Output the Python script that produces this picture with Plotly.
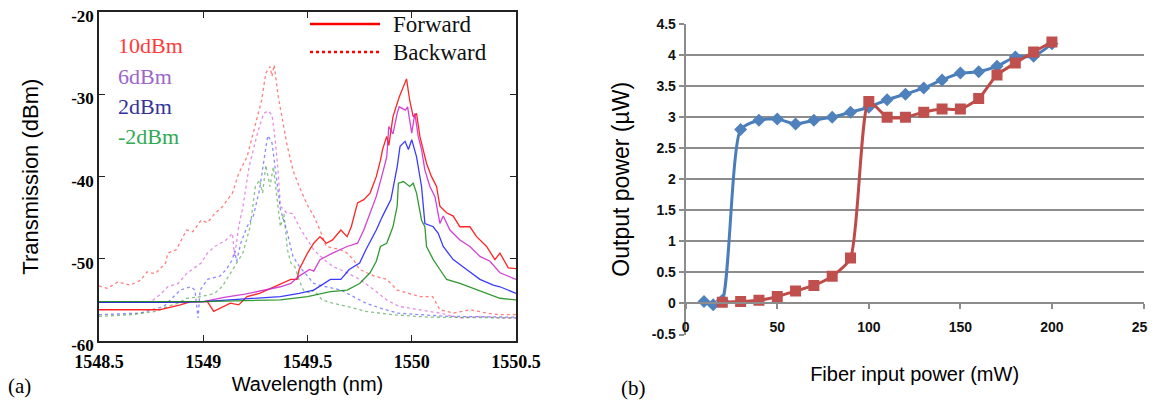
import plotly.graph_objects as go

# The page body has an 8px default margin, so the figure is drawn 8px in from the window edge.
PAGE_OFF = 8
W, H = 1156 - PAGE_OFF, 404 - PAGE_OFF


def px(xp):
    return (xp - PAGE_OFF) / W


def py(yp):
    return 1 - (yp - PAGE_OFF) / H


# ---------------- Panel (a): transmission spectra ----------------
wl_ticks = [1548.5, 1549, 1549.5, 1550, 1550.5]
wl_ticktext = ["1548.5", "1549", "1549.5", "1550", "1550.5"]
db_ticks = [-60, -50, -40, -30, -20]
db_ticktext = ["-60", "-50", "-40", "-30", "-20"]

fwd_10_wl = [1548.50, 1548.60, 1548.70, 1548.79, 1548.84, 1548.89, 1548.94, 1548.98, 1549.02, 1549.05,
             1549.08, 1549.13, 1549.17, 1549.21, 1549.27, 1549.34, 1549.37, 1549.42, 1549.45, 1549.46,
             1549.50, 1549.53, 1549.56, 1549.59, 1549.62, 1549.66, 1549.69, 1549.71, 1549.74, 1549.77,
             1549.80, 1549.83, 1549.85, 1549.86, 1549.88, 1549.89, 1549.91, 1549.94, 1549.975, 1549.99,
             1550.007, 1550.023, 1550.039, 1550.055, 1550.071, 1550.095, 1550.119, 1550.135, 1550.167,
             1550.199, 1550.231, 1550.279, 1550.311, 1550.359, 1550.399, 1550.423, 1550.463, 1550.5]
fwd_10_db = [-56.2, -56.2, -56.2, -56.2, -55.9, -55.6, -55.2, -55.2, -55.2, -56.4,
             -56.0, -55.4, -55.6, -54.6, -54.2, -53.4, -53.0, -52.5, -52.5, -51.3,
             -49.3, -48.1, -47.3, -48.1, -47.7, -46.5, -47.3, -46.1, -43.2, -42.8,
             -42.0, -40.0, -38.0, -36.7, -35.1, -36.2, -32.7, -30.3, -28.1, -30.7,
             -32.7, -32.3, -35.1, -36.7, -38.4, -40.0, -41.2, -43.6, -44.4,
             -44.8, -46.1, -46.1, -47.3, -48.5, -50.1, -49.3, -51.1, -51.2]

fwd_6_wl = [1548.50, 1548.70, 1548.90, 1549.00, 1549.10, 1549.20, 1549.30, 1549.37, 1549.42, 1549.46,
            1549.51, 1549.53, 1549.56, 1549.59, 1549.62, 1549.69, 1549.74, 1549.77, 1549.80, 1549.83,
            1549.86, 1549.88, 1549.89, 1549.91, 1549.93, 1549.94, 1549.97, 1549.98, 1550.00, 1550.015,
            1550.031, 1550.047, 1550.063, 1550.087, 1550.111, 1550.135, 1550.151, 1550.183, 1550.231,
            1550.279, 1550.327, 1550.375, 1550.423, 1550.5]
fwd_6_db = [-55.3, -55.3, -55.3, -55.2, -54.7, -54.3, -53.8, -53.4, -53.0, -52.1,
            -51.3, -51.5, -50.1, -49.7, -49.3, -48.5, -48.1, -46.5, -44.4, -42.4,
            -39.6, -37.6, -33.9, -34.8, -32.3, -31.5, -31.9, -31.5, -34.7, -32.3,
            -35.1, -36.7, -39.2, -41.2, -42.4, -45.7, -44.8, -46.5, -47.7,
            -48.5, -49.7, -50.3, -51.7, -52.5]

fwd_2_wl = [1548.50, 1548.80, 1549.00, 1549.21, 1549.37, 1549.46, 1549.53, 1549.61, 1549.66, 1549.70,
            1549.75, 1549.78, 1549.83, 1549.86, 1549.90, 1549.93, 1549.944, 1549.968, 1549.984, 1550.00,
            1550.023, 1550.047, 1550.063, 1550.103, 1550.127, 1550.151, 1550.199, 1550.263, 1550.327,
            1550.391, 1550.423, 1550.5]
fwd_2_db = [-55.3, -55.3, -55.2, -54.9, -54.6, -54.2, -53.8, -52.5, -52.5, -51.3,
            -50.5, -48.9, -46.5, -44.8, -42.8, -38.8, -36.3, -35.7, -36.7, -35.5,
            -37.6, -41.2, -45.7, -46.1, -46.9, -48.5, -50.1, -51.3, -52.5,
            -53.2, -53.4, -54.2]

fwd_m2_wl = [1548.50, 1549.00, 1549.37, 1549.50, 1549.61, 1549.69, 1549.75, 1549.80, 1549.83, 1549.85,
             1549.88, 1549.91, 1549.93, 1549.936, 1549.96, 1549.99, 1550.007, 1550.023, 1550.047, 1550.063,
             1550.071, 1550.103, 1550.135, 1550.167, 1550.231, 1550.295, 1550.359, 1550.423, 1550.5]
fwd_m2_db = [-55.2, -55.2, -55.0, -54.6, -54.0, -53.8, -53.0, -51.7, -50.3, -48.5,
             -48.1, -46.1, -43.6, -40.8, -40.6, -41.2, -40.8, -42.0, -45.3, -46.1,
             -48.5, -50.1, -51.3, -52.5, -53.0, -53.6, -54.2, -54.8, -55.0]

bwd_10_wl = [1548.50, 1548.54, 1548.59, 1548.65, 1548.70, 1548.73, 1548.77, 1548.82, 1548.83, 1548.87,
             1548.92, 1548.95, 1548.99, 1549.02, 1549.055, 1549.09, 1549.14, 1549.17, 1549.21, 1549.24,
             1549.28, 1549.30, 1549.32, 1549.33, 1549.34, 1549.36, 1549.38, 1549.40, 1549.43, 1549.46,
             1549.50, 1549.53, 1549.56, 1549.59, 1549.66, 1549.69, 1549.72, 1549.75, 1549.82, 1549.88,
             1549.93, 1549.98, 1550.04, 1550.10, 1550.135, 1550.20, 1550.28, 1550.36, 1550.42, 1550.5]
bwd_10_db = [-53.3, -53.6, -52.8, -53.2, -52.6, -51.6, -51.8, -50.5, -49.3, -48.9,
             -46.5, -46.7, -45.3, -45.6, -44.5, -43.7, -42.0, -39.6, -37.6, -34.7,
             -30.7, -27.4, -26.6, -27.8, -26.4, -30.3, -33.1, -35.9, -39.2, -41.2,
             -43.5, -44.8, -46.5, -48.5, -48.9, -49.3, -50.1, -51.3, -52.1, -52.5,
             -53.8, -54.2, -54.6, -54.6, -56.2, -56.6, -56.2, -56.6, -56.8, -56.8]

bwd_6_wl = [1548.50, 1548.75, 1548.80, 1548.83, 1548.88, 1548.92, 1548.99, 1549.02, 1549.055, 1549.11,
            1549.14, 1549.15, 1549.17, 1549.19, 1549.22, 1549.26, 1549.29, 1549.31, 1549.33, 1549.345,
            1549.36, 1549.37, 1549.40, 1549.43, 1549.46, 1549.50, 1549.53, 1549.58, 1549.62, 1549.69,
            1549.75, 1549.82, 1549.88, 1549.94, 1550.04, 1550.135, 1550.23, 1550.33, 1550.42, 1550.5]
bwd_6_db = [-55.3, -55.2, -54.2, -53.4, -53.0, -51.8, -50.5, -49.3, -48.5, -47.7,
            -46.9, -49.7, -46.1, -43.7, -38.8, -34.7, -32.3, -32.0, -32.5, -35.5,
            -39.6, -43.6, -44.4, -44.5, -46.1, -47.7, -48.9, -50.1, -50.9, -51.7,
            -52.5, -53.8, -55.0, -55.8, -56.2, -56.6, -57.2, -57.0, -57.2, -57.2]

bwd_2_wl = [1548.50, 1548.70, 1548.81, 1548.86, 1548.89, 1548.94, 1548.96, 1548.975, 1548.985, 1549.02,
            1549.05, 1549.08, 1549.11, 1549.14, 1549.15, 1549.16, 1549.18, 1549.21, 1549.24, 1549.27,
            1549.30, 1549.31, 1549.33, 1549.345, 1549.37, 1549.40, 1549.43, 1549.46, 1549.50, 1549.53,
            1549.59, 1549.66, 1549.72, 1549.78, 1549.85, 1549.93, 1550.04, 1550.17, 1550.5]
bwd_2_db = [-56.8, -56.6, -55.8, -54.6, -53.8, -53.4, -53.8, -57.2, -53.8, -52.5,
            -52.3, -52.1, -51.3, -50.1, -49.0, -50.3, -48.1, -46.1, -44.8, -41.6,
            -36.5, -35.0, -35.9, -38.8, -44.0, -46.5, -49.7, -50.9, -52.1, -53.0,
            -53.4, -53.8, -54.6, -55.4, -56.0, -56.6, -56.8, -57.0, -57.1]

bwd_m2_wl = [1548.50, 1548.66, 1548.77, 1548.83, 1548.88, 1548.92, 1548.99, 1549.055, 1549.09, 1549.12,
             1549.16, 1549.19, 1549.225, 1549.25, 1549.27, 1549.285, 1549.30, 1549.32, 1549.336, 1549.353,
             1549.37, 1549.387, 1549.404, 1549.42, 1549.44, 1549.46, 1549.48, 1549.515, 1549.53, 1549.57,
             1549.62, 1549.69, 1549.78, 1549.91, 1550.08, 1550.5]
bwd_m2_db = [-57.0, -56.8, -56.4, -55.8, -55.4, -54.8, -54.6, -54.2, -53.4, -52.2,
             -50.5, -49.3, -46.1, -41.2, -40.4, -42.0, -38.6, -41.2, -38.8, -42.8,
             -46.1, -44.5, -48.9, -50.5, -51.0, -52.6, -53.8, -54.2, -53.8, -55.0,
             -55.4, -55.8, -56.4, -56.8, -57.1, -57.2]

power_labels = ["10dBm", "6dBm", "2dBm", "-2dBm"]
label_colors = ["#ff3b3b", "#9a66cc", "#33339a", "#2faa55"]
line_colors = ["#ff0000", "#cc22cc", "#1a1aff", "#118811"]
fwd_series = [(fwd_10_wl, fwd_10_db), (fwd_6_wl, fwd_6_db), (fwd_2_wl, fwd_2_db), (fwd_m2_wl, fwd_m2_db)]
bwd_series = [(bwd_10_wl, bwd_10_db), (bwd_6_wl, bwd_6_db), (bwd_2_wl, bwd_2_db), (bwd_m2_wl, bwd_m2_db)]

# ---------------- Panel (b): bistability ----------------
inc_power = [10, 15, 20, 30, 40, 50, 60, 70, 80, 90, 100, 110, 120, 130, 140, 150, 160, 170, 180, 190, 200]
inc_output = [0.03, -0.02, 0.05, 2.80, 2.95, 2.97, 2.89, 2.95, 3.00, 3.08, 3.16, 3.28, 3.37, 3.47, 3.60,
              3.71, 3.73, 3.82, 3.97, 3.98, 4.18]
dec_power = [20, 30, 40, 50, 60, 70, 80, 90, 100, 110, 120, 130, 140, 150, 160, 170, 180, 190, 200]
dec_output = [0.02, 0.03, 0.05, 0.11, 0.20, 0.29, 0.44, 0.73, 3.25, 3.00, 3.00, 3.08, 3.13, 3.13, 3.30,
              3.68, 3.87, 4.05, 4.21]
b_xticks = [0, 50, 100, 150, 200, 250]
b_yticks = [-0.5, 0, 0.5, 1, 1.5, 2, 2.5, 3, 3.5, 4, 4.5]
b_yticktext = ["-0.5", "0", "0.5", "1", "1.5", "2", "2.5", "3", "3.5", "4", "4.5"]

fig = go.Figure()

for (x, y), c in zip(bwd_series, line_colors):
    fig.add_trace(go.Scatter(x=x, y=y, mode="lines", line=dict(color=c, width=1.3, dash="dot"),
                             opacity=0.5, xaxis="x", yaxis="y", showlegend=False, hoverinfo="skip"))
for (x, y), c in zip(fwd_series, line_colors):
    fig.add_trace(go.Scatter(x=x, y=y, mode="lines", line=dict(color=c, width=1.3),
                             opacity=0.85, xaxis="x", yaxis="y", showlegend=False, hoverinfo="skip"))

fig.add_trace(go.Scatter(x=inc_power, y=inc_output, mode="lines+markers",
                         line=dict(color="#4a7ebb", width=3, shape="spline", smoothing=0.6),
                         marker=dict(symbol="diamond", size=10, color="#4f81bd"),
                         xaxis="x2", yaxis="y2", showlegend=False))
fig.add_trace(go.Scatter(x=dec_power, y=dec_output, mode="lines+markers",
                         line=dict(color="#be4b48", width=3, shape="spline", smoothing=0.6),
                         marker=dict(symbol="square", size=11, color="#c0504d"),
                         xaxis="x2", yaxis="y2", showlegend=False))

serif = "Liberation Serif"
sans = "Liberation Sans"

# domains (derived from the reference pixel layout)
xa_dom = [px(99), px(516)]
ya_dom = [py(341), py(12.3)]
xb_dom = [px(685.7), px(1143.5)]
yb_dom = [py(334.5), py(24)]
yb_range = [-0.5, 4.5]
zero_pos = yb_dom[0] + (0 - yb_range[0]) / (yb_range[1] - yb_range[0]) * (yb_dom[1] - yb_dom[0])

grey = "#8c8c8c"

fig.update_layout(
    template="none",
    width=W, height=H,
    margin=dict(l=0, r=0, t=0, b=0),
    paper_bgcolor="white", plot_bgcolor="white",
    showlegend=False,
    xaxis=dict(domain=xa_dom, range=[1548.5, 1550.5], tickvals=wl_ticks, ticktext=wl_ticktext,
               showline=True, mirror="ticks", linecolor="#222", linewidth=1.5,
               ticks="inside", ticklen=6, tickcolor="#222", showgrid=False, zeroline=False,
               ticklabeloverflow="allow", ticklabelstandoff=4,
               tickfont=dict(family=serif, size=18, color="black", weight="bold"),
               title=dict(text="Wavelength (nm)", font=dict(family=sans, size=20, color="black"), standoff=6),
               automargin=False, anchor="y"),
    yaxis=dict(domain=ya_dom, range=[-60.001, -19.999], tickvals=db_ticks, ticktext=db_ticktext,
               showline=True, mirror="ticks", linecolor="#222", linewidth=1.5,
               ticks="inside", ticklen=6, tickcolor="#222", showgrid=False, zeroline=False,
               ticklabelshift=4, ticklabeloverflow="allow",
               tickfont=dict(family=serif, size=17, color="black", weight="bold"),
               title=dict(text="Transmission (dBm)", font=dict(family=sans, size=22, color="black"), standoff=26),
               automargin=False, anchor="x"),
    xaxis2=dict(domain=xb_dom, range=[0, 250], tickvals=b_xticks, anchor="free", position=zero_pos,
                showline=True, linecolor=grey, linewidth=2, ticks="outside", ticklen=5, tickcolor=grey,
                tickwidth=2, showgrid=False, zeroline=False, ticklabelstandoff=6,
                tickfont=dict(family=sans, size=14, color="#111", weight="bold"),
                title=dict(text="Fiber input power (mW)", font=dict(family=sans, size=20, color="black"),
                           standoff=32),
                automargin=False),
    yaxis2=dict(domain=yb_dom, range=yb_range, tickvals=b_yticks, ticktext=b_yticktext, anchor="x2",
                showline=True, linecolor=grey, linewidth=2, ticks="outside", ticklen=5, tickcolor=grey,
                tickwidth=2, showgrid=True, gridcolor=grey, gridwidth=2, zeroline=False,
                tickfont=dict(family=sans, size=14, color="#111", weight="bold"),
                title=dict(text="Output power (µW)", font=dict(family=sans, size=23, color="black"), standoff=16),
                automargin=False),
)

# colored power labels inside panel (a)
label_y_px = [45.7, 76.5, 106.5, 136.5]
for txt, col, ypx in zip(power_labels, label_colors, label_y_px):
    fig.add_annotation(text=txt, xref="paper", yref="paper", x=px(116), y=py(ypx),
                       xanchor="left", yanchor="middle", showarrow=False,
                       font=dict(family=serif, size=22, color=col))

# Forward / Backward key
key_items = [("Forward", "solid", 24), ("Backward", "dot", 52)]
for txt, dash, ypx in key_items:
    fig.add_shape(type="line", xref="paper", yref="paper", x0=px(310), x1=px(380),
                  y0=py(ypx), y1=py(ypx), line=dict(color="#ff0000", width=2.5, dash=dash))
    fig.add_annotation(text=txt, xref="paper", yref="paper", x=px(391), y=py(ypx),
                       xanchor="left", yanchor="middle", showarrow=False,
                       font=dict(family=serif, size=23, color="#111"))

# panel letters
fig.add_annotation(text="(a)", xref="paper", yref="paper", x=px(19), y=py(386), showarrow=False,
                   xanchor="center", yanchor="middle", font=dict(family=serif, size=21, color="black"))
fig.add_annotation(text="(b)", xref="paper", yref="paper", x=px(633), y=py(388), showarrow=False,
                   xanchor="center", yanchor="middle", font=dict(family=serif, size=21, color="black"))

fig.write_html("out.html")
